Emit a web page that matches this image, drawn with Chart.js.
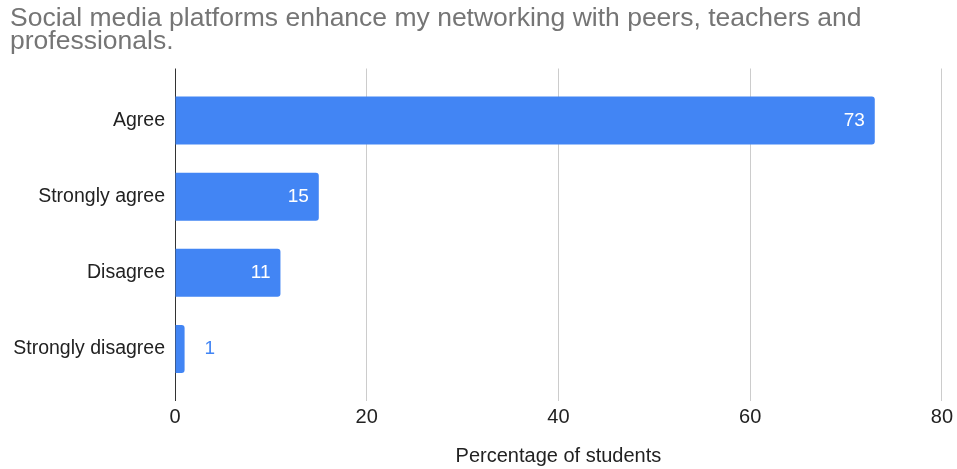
<!DOCTYPE html>
<html lang="en">
<head>
<meta charset="UTF-8">
<title>Networking survey</title>
<script src="https://cdn.jsdelivr.net/npm/chart.js"></script>
<style>
  html, body { margin: 0; padding: 0; background: #ffffff; }
  #wrap { width: 957px; height: 469px; position: relative; }
</style>
</head>
<body>
<div id="wrap"><canvas id="chart"></canvas></div>
<script>
// survey answers and share of students (%)
const categories = ['Agree', 'Strongly agree', 'Disagree', 'Strongly disagree'];
const percentages = [73, 15, 11, 1];
const xTicks = [0, 20, 40, 60, 80];

const titleLines = [
  'Social media platforms enhance my networking with peers, teachers and',
  'professionals.'
];

const FONT = "'Liberation Sans', Arial, sans-serif";
const BAR = '#4285f4';

// value labels: white inside long bars, blue just past short ones
const valueLabels = {
  id: 'valueLabels',
  afterDatasetsDraw(chart) {
    const ctx = chart.ctx;
    const meta = chart.getDatasetMeta(0);
    ctx.save();
    ctx.font = '19px ' + FONT;
    ctx.textBaseline = 'middle';
    meta.data.forEach((bar, i) => {
      const txt = String(percentages[i]);
      const w = ctx.measureText(txt).width;
      if (bar.x - bar.base > w + 20) {
        ctx.fillStyle = '#ffffff';
        ctx.textAlign = 'right';
        ctx.fillText(txt, bar.x - 10, bar.y);
      } else {
        ctx.fillStyle = BAR;
        ctx.textAlign = 'left';
        ctx.fillText(txt, bar.x + 20, bar.y);
      }
    });
    ctx.restore();
  }
};

const gridColor = ctx => ctx.tick && ctx.tick.value === 0 ? '#333333' : '#cccccc';

new Chart(document.getElementById('chart'), {
  type: 'bar',
  data: {
    labels: categories,
    datasets: [{
      data: percentages,
      backgroundColor: BAR,
      borderRadius: 3,
      barPercentage: 0.63,
      categoryPercentage: 1
    }]
  },
  plugins: [valueLabels],
  options: {
    indexAxis: 'y',
    responsive: true,
    maintainAspectRatio: false,
    animation: false,
    layout: { padding: { left: 10, right: 15, top: 8, bottom: 1 } },
    plugins: {
      legend: { display: false },
      tooltip: { enabled: false },
      title: {
        display: true,
        text: titleLines,
        align: 'start',
        color: '#757575',
        font: { family: FONT, size: 26.5, weight: 'normal', lineHeight: 0.84 },
        padding: { top: 0, bottom: 16 }
      }
    },
    scales: {
      x: {
        min: 0,
        max: 80,
        afterBuildTicks: s => { s.ticks = xTicks.map(v => ({ value: v })); },
        grid: { color: gridColor, lineWidth: 1, drawTicks: true, tickLength: 14 },
        border: { display: false },
        ticks: { color: '#222222', font: { family: FONT, size: 20 }, padding: 4 },
        title: {
          display: true,
          text: 'Percentage of students',
          color: '#222222',
          font: { family: FONT, size: 20 },
          padding: { top: 11, bottom: 0 }
        }
      },
      // top companion axis: only stretches the gridlines above the first bar
      x2: {
        position: 'top',
        min: 0,
        max: 80,
        afterBuildTicks: s => { s.ticks = xTicks.map(v => ({ value: v })); },
        grid: { drawOnChartArea: false, color: gridColor, lineWidth: 1, tickLength: 14 },
        border: { display: false },
        ticks: { display: false }
      },
      y: {
        afterFit: s => { s.width = 165; },
        grid: { display: false, drawTicks: false },
        border: { display: false },
        ticks: { color: '#222222', font: { family: FONT, size: 19.5 }, padding: 10 }
      }
    }
  }
});
</script>
</body>
</html>
